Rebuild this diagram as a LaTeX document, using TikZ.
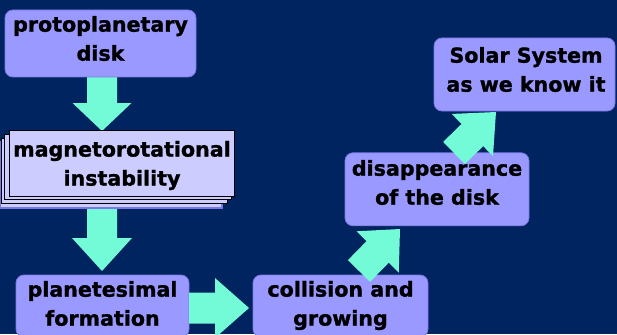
\documentclass[tikz,border=0pt]{standalone}
\usepackage{fontspec}
\newfontfamily\dvs{DejaVu Sans Bold}[FakeBold=1.3]
\usetikzlibrary{calc}
\definecolor{bgc}{RGB}{0,36,96}
\definecolor{boxc}{RGB}{153,153,255}
\definecolor{boxl}{RGB}{120,120,225}
\definecolor{lav}{RGB}{204,204,255}
\definecolor{arrc}{RGB}{115,250,214}
\newcommand\blockarrow[5]{%
  \fill[arrc] let \p1=(#1), \p2=(#2),
    \n1={atan2(\y2-\y1,\x2-\x1)}, \n2={veclen(\x2-\x1,\y2-\y1)} in
    ([shift={(\p1)},rotate=\n1]0,-#3/2) --
    ([shift={(\p1)},rotate=\n1]\n2-#5,-#3/2) --
    ([shift={(\p1)},rotate=\n1]\n2-#5,-#4/2) --
    ([shift={(\p1)},rotate=\n1]\n2,0) --
    ([shift={(\p1)},rotate=\n1]\n2-#5,#4/2) --
    ([shift={(\p1)},rotate=\n1]\n2-#5,#3/2) --
    ([shift={(\p1)},rotate=\n1]0,#3/2) -- cycle;}
\tikzset{
  pbox/.style={rounded corners=8pt, fill=boxc, draw=boxl, line width=0.8pt, inner sep=0pt},
  mrbox/.style={fill=lav, draw=black, line width=1pt, inner sep=0pt},
  txt/.style={align=center, inner sep=0pt, text=black, font=\dvs\fontsize{20.6}{29}\selectfont},
}
\begin{document}
\begin{tikzpicture}[x=1pt,y=-1pt]
\fill[bgc] (0,0) rectangle (617,334);
\useasboundingbox (0,0) rectangle (617,334);
\clip (0,0) rectangle (617,334);
% arrow end points
\coordinate (a1s) at (102,77);  \coordinate (a1e) at (102,131);
\coordinate (a2s) at (102,197); \coordinate (a2e) at (102,271);
\coordinate (a3s) at (189,308); \coordinate (a3e) at (249,308);
\coordinate (a4s) at (359,271); \coordinate (a4e) at (400,229);
\coordinate (a5s) at (454,153); \coordinate (a5e) at (496,112);
\blockarrow{a1s}{a1e}{30}{59}{28}
\blockarrow{a2s}{a2e}{30}{60}{33}
% protoplanetary disk
\node[pbox, minimum width=191pt, minimum height=67pt] (proto) at (100.5,43.5) {};
\node[txt] (protot) at (100.5,38.5) {protoplanetary\\disk};
% magnetorotational instability (stacked)
\draw[fill=lav, draw=boxl, line width=1.5pt] (0,142) rectangle (222,208);
\draw[mrbox] (1,138) rectangle (227,203);
\draw[mrbox] (4,134) rectangle (231,199);
\node[mrbox, minimum width=225pt, minimum height=66pt] (mri) at (121.5,163) {};
\node[txt] (mrit) at (122,165.5) {magnetorotational\\instability};
% planetesimal formation
\node[pbox, minimum width=173pt, minimum height=62pt] (plan) at (102.5,306) {};
\node[txt] (plant) at (102.5,303.5) {planetesimal\\formation};
% collision and growing
\node[pbox, minimum width=175pt, minimum height=62pt] (coll) at (340.5,306) {};
\node[txt] (collt) at (340.5,305.5) {collision and\\growing};
\blockarrow{a3s}{a3e}{31}{60}{34}
% disappearance of the disk
\node[pbox, minimum width=184pt, minimum height=73pt] (dis) at (437,189.3) {};
\node[txt] (dist) at (437,182.5) {disappearance\\of the disk};
\blockarrow{a4s}{a4e}{31}{59}{32}
\blockarrow{a5s}{a5e}{31}{59}{33}
% Solar System
\node[pbox, minimum width=181pt, minimum height=73pt] (sol) at (524.5,74.5) {};
\node[txt] (solt) at (526,69.5) {Solar System\\as we know it};
\end{tikzpicture}
\end{document}
